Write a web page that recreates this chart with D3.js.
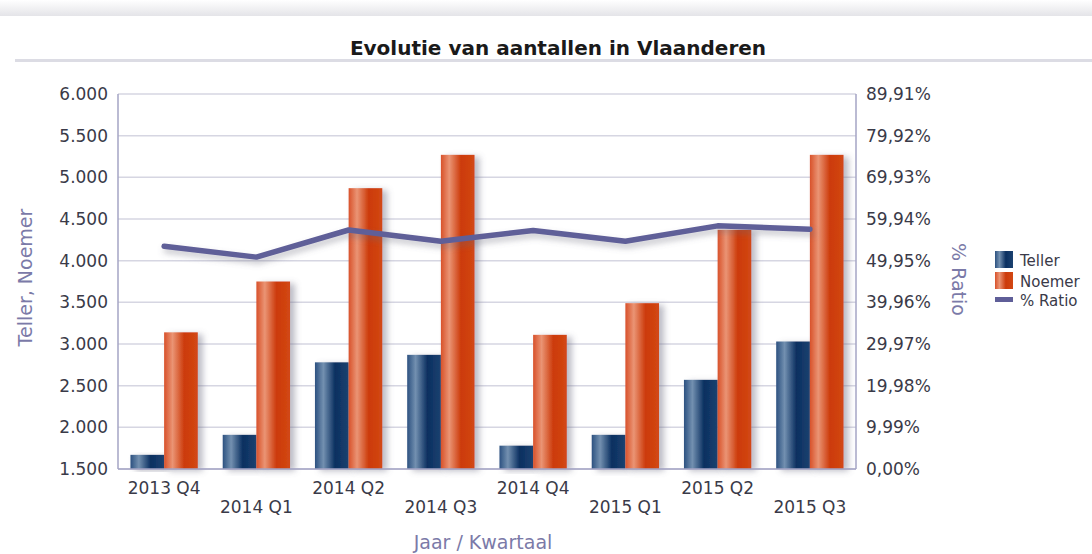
<!DOCTYPE html>
<html>
<head>
<meta charset="utf-8">
<script src="https://cdn.jsdelivr.net/npm/d3@7"></script>
<style>
  body { margin: 0; background: #fff; font-family: "DejaVu Sans", sans-serif; }
  svg { display: block; }
</style>
</head>
<body>
<svg id="chart"></svg>
<script>
const quarters = ["2013 Q4", "2014 Q1", "2014 Q2", "2014 Q3", "2014 Q4", "2015 Q1", "2015 Q2", "2015 Q3"];
const teller = [1670, 1910, 2780, 2870, 1780, 1910, 2570, 3030];
const noemer = [3140, 3750, 4870, 5270, 3110, 3490, 4370, 5270];
const ratio = [53.4, 50.8, 57.3, 54.6, 57.2, 54.6, 58.3, 57.5];
const leftTicks = [1500, 2000, 2500, 3000, 3500, 4000, 4500, 5000, 5500, 6000];
const rightTicks = [0, 9.99, 19.98, 29.97, 39.96, 49.95, 59.94, 69.93, 79.92, 89.91];

const width = 1092, height = 554;
const margin = { top: 94, right: 236, bottom: 85, left: 118 };
const innerW = width - margin.left - margin.right;
const innerH = height - margin.top - margin.bottom;
const FONT = "'DejaVu Sans', sans-serif";
const tickColor = "#3a3a48";
const titleColor = "#7b7aa8";

const svg = d3.select("#chart").attr("width", width).attr("height", height);
const defs = svg.append("defs");

// header band + title separator
const band = defs.append("linearGradient").attr("id", "band").attr("x1", 0).attr("y1", 0).attr("x2", 0).attr("y2", 1);
band.append("stop").attr("offset", 0).attr("stop-color", "#ffffff");
band.append("stop").attr("offset", 1).attr("stop-color", "#e4e4e8");
svg.append("rect").attr("x", 0).attr("y", 0).attr("width", width).attr("height", 16).attr("fill", "url(#band)");

svg.append("text")
  .attr("x", 558).attr("y", 55)
  .attr("text-anchor", "middle")
  .attr("font-size", 20).attr("font-weight", "bold").attr("fill", "#1a1a1a")
  .text("Evolutie van aantallen in Vlaanderen");

svg.append("rect").attr("x", 15).attr("y", 59).attr("width", width - 15).attr("height", 3).attr("fill", "#dcdce4");

// gradients for the bars
function barGradient(id, stops) {
  const g = defs.append("linearGradient").attr("id", id).attr("x1", 0).attr("y1", 0).attr("x2", 1).attr("y2", 0);
  stops.forEach(s => g.append("stop").attr("offset", s[0]).attr("stop-color", s[1]));
}
barGradient("gTeller", [[0, "#2c5180"], [0.25, "#7390b0"], [0.6, "#0a2f60"], [1, "#1c4270"]]);
barGradient("gNoemer", [[0, "#d8512a"], [0.25, "#ea9474"], [0.6, "#cc3a0a"], [1, "#d24814"]]);

const shadow = defs.append("filter").attr("id", "shadow").attr("x", "-20%").attr("y", "-20%").attr("width", "160%").attr("height", "140%");
shadow.append("feDropShadow").attr("dx", 5).attr("dy", 2).attr("stdDeviation", 3)
  .attr("flood-color", "#6b6b80").attr("flood-opacity", 0.45);

const lineShadow = defs.append("filter").attr("id", "lshadow").attr("x", "-10%").attr("y", "-50%").attr("width", "120%").attr("height", "250%");
lineShadow.append("feDropShadow").attr("dx", 2).attr("dy", 4).attr("stdDeviation", 3)
  .attr("flood-color", "#666677").attr("flood-opacity", 0.4);

const g = svg.append("g").attr("transform", `translate(${margin.left},${margin.top})`);

const x0 = d3.scaleBand().domain(quarters).range([0, innerW]).paddingInner(0.27).paddingOuter(0.135);
const x1 = d3.scaleBand().domain(["teller", "noemer"]).range([0, x0.bandwidth()]);
const y = d3.scaleLinear().domain([1500, 6000]).range([innerH, 0]);
const yR = d3.scaleLinear().domain([0, 89.91]).range([innerH, 0]);

const fmtLeft = d => d3.format(",")(d).replace(/,/g, ".");
const fmtRight = d => d.toFixed(2).replace(".", ",") + "%";

// gridlines
g.append("g").selectAll("line").data(leftTicks).join("line")
  .attr("x1", 0).attr("x2", innerW)
  .attr("y1", d => y(d)).attr("y2", d => y(d))
  .attr("stroke", "#d6d6e2").attr("stroke-width", 1.5);

// left axis
const leftAxis = g.append("g")
  .call(d3.axisLeft(y).tickValues(leftTicks).tickSize(0).tickPadding(10).tickFormat(fmtLeft));
leftAxis.select(".domain").remove();
leftAxis.selectAll("text").attr("font-size", 17).attr("fill", tickColor).attr("font-family", FONT);

// right axis
const rightAxis = g.append("g").attr("transform", `translate(${innerW},0)`)
  .call(d3.axisRight(yR).tickValues(rightTicks).tickSize(0).tickPadding(10).tickFormat(fmtRight));
rightAxis.select(".domain").remove();
rightAxis.selectAll("text").attr("font-size", 17).attr("fill", tickColor).attr("font-family", FONT);

// bars
const groups = g.append("g").selectAll("g").data(quarters).join("g")
  .attr("transform", d => `translate(${x0(d)},0)`);

groups.append("rect")
  .attr("x", x1("teller")).attr("width", x1.bandwidth())
  .attr("y", (d, i) => y(teller[i])).attr("height", (d, i) => innerH - y(teller[i]))
  .attr("fill", "url(#gTeller)").attr("filter", "url(#shadow)");

groups.append("rect")
  .attr("x", x1("noemer")).attr("width", x1.bandwidth())
  .attr("y", (d, i) => y(noemer[i])).attr("height", (d, i) => innerH - y(noemer[i]))
  .attr("fill", "url(#gNoemer)").attr("filter", "url(#shadow)");

// axis frame
g.append("line").attr("x1", 0).attr("x2", 0).attr("y1", 0).attr("y2", innerH).attr("stroke", "#a4a4c4").attr("stroke-width", 1.5);
g.append("line").attr("x1", innerW).attr("x2", innerW).attr("y1", 0).attr("y2", innerH).attr("stroke", "#a4a4c4").attr("stroke-width", 1.5);
g.append("line").attr("x1", 0).attr("x2", innerW).attr("y1", innerH).attr("y2", innerH).attr("stroke", "#a4a4c4").attr("stroke-width", 1.5);

// ratio line
const line = d3.line()
  .x((d, i) => x0(quarters[i]) + x0.bandwidth() / 2)
  .y(d => yR(d));
g.append("path").datum(ratio)
  .attr("d", line)
  .attr("fill", "none").attr("stroke", "#5f5e98").attr("stroke-width", 5.5)
  .attr("stroke-linecap", "round").attr("stroke-linejoin", "round")
  .attr("filter", "url(#lshadow)");

// x labels, staggered
const xAxis = g.append("g").attr("transform", `translate(0,${innerH})`)
  .call(d3.axisBottom(x0).tickSize(0).tickPadding(0));
xAxis.select(".domain").remove();
xAxis.selectAll("text")
  .attr("y", (d, i) => i % 2 === 0 ? 25 : 44)
  .attr("dy", 0)
  .attr("font-size", 17).attr("fill", tickColor).attr("font-family", FONT);

// axis titles
svg.append("text")
  .attr("x", margin.left + innerW / 2 - 4).attr("y", 549)
  .attr("text-anchor", "middle").attr("font-size", 19).attr("fill", titleColor)
  .text("Jaar / Kwartaal");

svg.append("text")
  .attr("transform", `translate(32,${margin.top + innerH / 2 - 4}) rotate(-90)`)
  .attr("text-anchor", "middle").attr("font-size", 19).attr("fill", titleColor)
  .text("Teller, Noemer");

svg.append("text")
  .attr("transform", `translate(952,${margin.top + innerH / 2 - 2}) rotate(90)`)
  .attr("text-anchor", "middle").attr("font-size", 19).attr("fill", titleColor)
  .text("% Ratio");

// legend
const legendItems = [
  { label: "Teller", fill: "url(#gTeller)", type: "bar" },
  { label: "Noemer", fill: "url(#gNoemer)", type: "bar" },
  { label: "% Ratio", fill: "#5f5e98", type: "line" }
];
const legend = svg.append("g").attr("transform", "translate(995,251)");
const li = legend.selectAll("g").data(legendItems).join("g")
  .attr("transform", (d, i) => `translate(0,${i * 21})`);
li.append("rect")
  .attr("x", 0)
  .attr("y", d => d.type === "bar" ? 0 : 4)
  .attr("width", 18)
  .attr("height", d => d.type === "bar" ? 17 : 5)
  .attr("fill", d => d.fill);
li.append("text")
  .attr("x", 25).attr("y", d => d.type === "bar" ? 15 : 13)
  .attr("font-size", 15).attr("fill", tickColor)
  .text(d => d.label);
</script>
</body>
</html>
